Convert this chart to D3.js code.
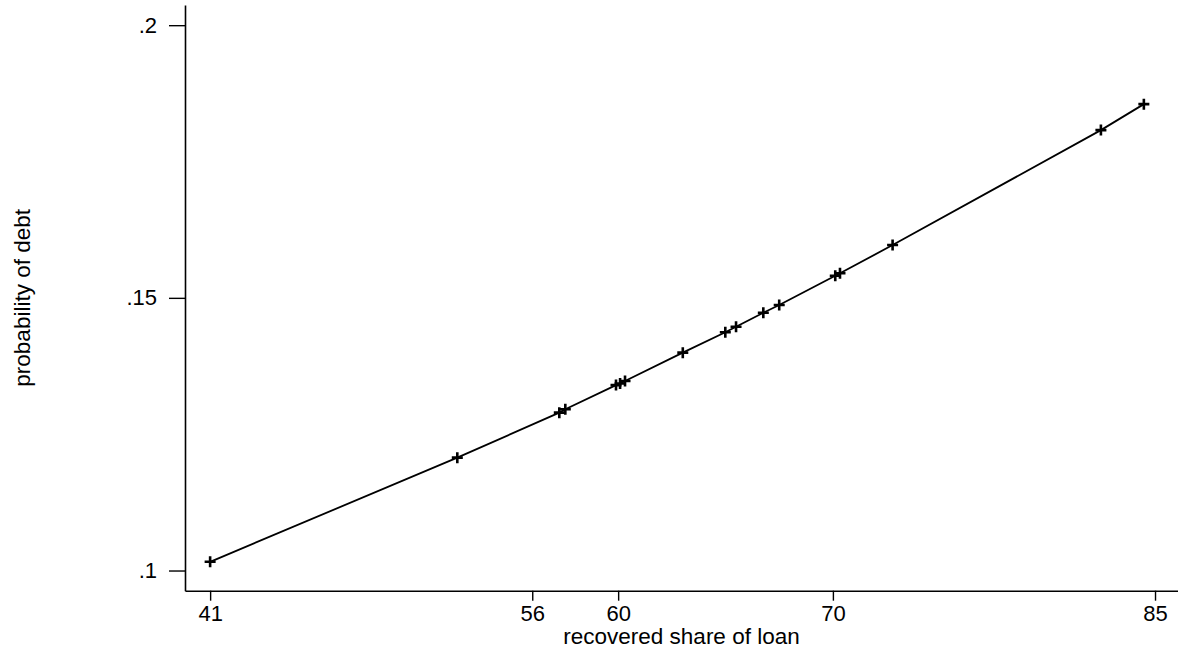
<!DOCTYPE html>
<html>
<head>
<meta charset="utf-8">
<script src="https://cdn.jsdelivr.net/npm/d3@7"></script>
<style>
  html, body { margin: 0; padding: 0; background: #fff; }
  svg { display: block; }
  text { font-family: "Liberation Sans", Arial, Helvetica, sans-serif; fill: #000; }
</style>
</head>
<body>
<svg id="chart" width="1178" height="653"></svg>
<script>
// Data
const recoveredShare = [41, 52.51, 57.26, 57.54, 59.9, 60.09, 60.32, 63.01, 64.99, 65.49, 66.76, 67.5, 70.11, 70.33, 72.78, 82.48, 84.48];
const probDebt = [0.1016, 0.1207, 0.12895, 0.12958, 0.1340, 0.1343, 0.13476, 0.13995, 0.14369, 0.14471, 0.14728, 0.14869, 0.15406, 0.1545, 0.15968, 0.18076, 0.18552];
const xTickValues = [41, 56, 60, 70, 85];
const yTickValues = [0.1, 0.15, 0.2];
const yTickLabels = [".1", ".15", ".2"];
const xDomain = [39.83, 86.07];
const yDomain = [0.0963, 0.2037];
const xTitle = "recovered share of loan";
const yTitle = "probability of debt";

(function () {
const svg = d3.select("#chart");
const pLeft = 185, pRight = 1178, pTop = 5, pBottom = 590.7;

const x = d3.scaleLinear().domain(xDomain).range([pLeft, pRight]);
const y = d3.scaleLinear().domain(yDomain).range([pBottom, pTop]);

const data = recoveredShare.map((v, i) => ({x: v, y: probDebt[i]}));

// X axis
const xAxis = d3.axisBottom(x).tickValues(xTickValues).tickFormat(d3.format("d"))
  .tickSize(10).tickSizeOuter(0).tickPadding(5);
const gx = svg.append("g").attr("transform", `translate(0,${pBottom})`).call(xAxis);
gx.select(".domain").attr("stroke", "#000").attr("stroke-width", 1.6);
gx.selectAll(".tick line").attr("stroke", "#000").attr("stroke-width", 1.4);
gx.selectAll(".tick text").attr("font-size", 22).attr("font-family", "Liberation Sans, Arial, sans-serif");

// Y axis
const yAxis = d3.axisLeft(y).tickValues(yTickValues).tickFormat((d, i) => yTickLabels[i])
  .tickSize(16).tickSizeOuter(0).tickPadding(12);
const gy = svg.append("g").attr("transform", `translate(${pLeft},0)`).call(yAxis);
gy.select(".domain").attr("stroke", "#000").attr("stroke-width", 1.6);
gy.selectAll(".tick line").attr("stroke", "#000").attr("stroke-width", 1.4);
gy.selectAll(".tick text").attr("font-size", 22).attr("font-family", "Liberation Sans, Arial, sans-serif");

// Titles
svg.append("text")
  .attr("x", (pLeft + pRight) / 2).attr("y", 644)
  .attr("text-anchor", "middle").attr("font-size", 22.5)
  .text(xTitle);
svg.append("text")
  .attr("transform", `translate(30,${(pTop + pBottom) / 2}) rotate(-90)`)
  .attr("text-anchor", "middle").attr("font-size", 22.5)
  .text(yTitle);

// Line
const line = d3.line().x(d => x(d.x)).y(d => y(d.y));
svg.append("path").datum(data)
  .attr("fill", "none").attr("stroke", "#000").attr("stroke-width", 1.8)
  .attr("d", line);

// Plus markers
const m = 5.5;
svg.append("g").selectAll("path.mk").data(data).join("path")
  .attr("class", "mk")
  .attr("fill", "none").attr("stroke", "#000").attr("stroke-width", 2.6)
  .attr("d", d => `M${x(d.x) - m},${y(d.y)}H${x(d.x) + m}M${x(d.x)},${y(d.y) - m}V${y(d.y) + m}`);
})();
</script>
</body>
</html>
